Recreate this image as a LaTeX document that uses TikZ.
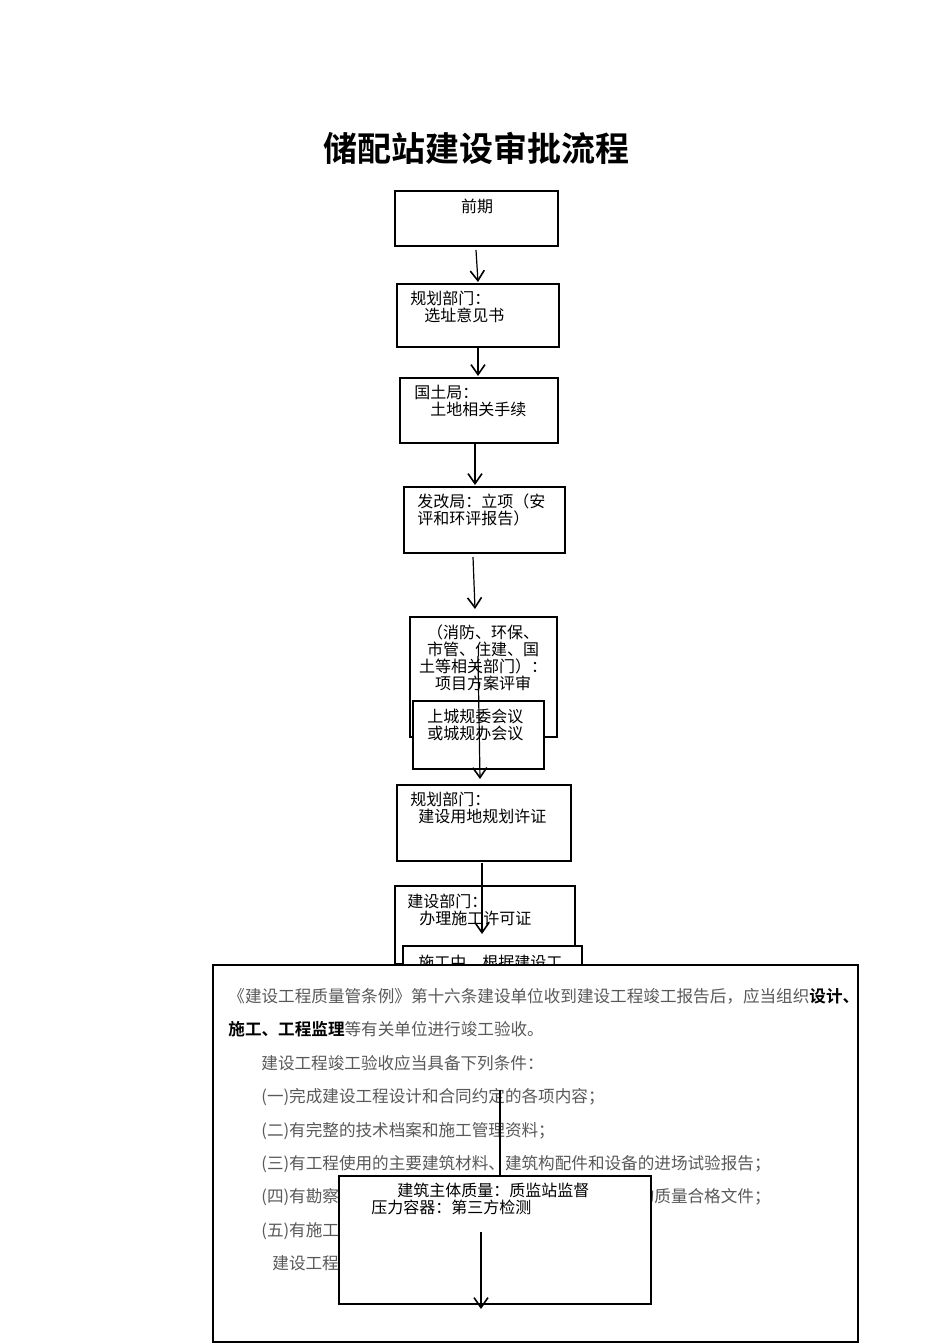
\documentclass[tikz,border=0pt]{standalone}
\usepackage{fontspec}
\setmainfont{Noto Sans CJK SC}[BoldFont=Noto Sans CJK SC Bold]
\usetikzlibrary{arrows.meta}

\tikzset{
    box/.style={draw, line width=0.6pt, fill=white, inner sep=0pt},
    txt/.style={font=\fontsize{8}{8.5}\selectfont, inner sep=0pt},
    body/.style={font=\fontsize{8.3}{8.5}\selectfont, inner sep=0pt, text=black!65, anchor=base west},
    arr/.style={-{Straight Barb[length=5pt, width=7pt, line width=0.8pt]}, line width=0.6pt}
}

\begin{document}
\begin{tikzpicture}[x=0.5pt, y=-0.5pt]
    \useasboundingbox (0,0) rectangle (950,1344);
    \fill[white] (0,0) rectangle (950,1344);

    \node[font=\fontsize{17}{17}\bfseries\selectfont, inner sep=0pt] (title) at (476,148) {储配站建设审批流程};

    \node[box, minimum width=81.5pt, minimum height=27.5pt] (qianqi) at (476.5,218.5) {};
    \node[txt] (tqianqi) at (477,206) {前期};

    \node[box, minimum width=81pt, minimum height=31.5pt] (guihua) at (478,315.5) {};
    \node[txt, align=left, anchor=base west] (tguihua) at (410,321) {规划部门：\\\hspace{7pt}选址意见书};

    \node[box, minimum width=79pt, minimum height=32.5pt] (guotu) at (479,410.5) {};
    \node[txt, align=left, anchor=base west] (tguotu) at (414,415) {国土局：\\\hspace{8pt}土地相关手续};

    \node[box, minimum width=80.5pt, minimum height=33pt] (fagai) at (484.5,520) {};
    \node[txt, align=left, anchor=base west] (tfagai) at (417,524) {发改局：立项（安\\评和环评报告）};

    \node[box, minimum width=73.5pt, minimum height=60pt] (pingshen) at (483.5,677) {};
    \node[txt, align=center, anchor=base] (tpingshen) at (483,689) {（消防、环保、\\市管、住建、国\\土等相关部门）：\\项目方案评审};

    \node[box, minimum width=65.5pt, minimum height=34pt] (chenggui) at (478.5,735) {};
    \node[txt, align=left, anchor=base west] (tchenggui) at (427,739) {上城规委会议\\或城规办会议};

    \draw[arr] (478,656) -- (480,779);

    \node[box, minimum width=87pt, minimum height=38pt] (yongdi) at (484,823) {};
    \node[txt, align=left, anchor=base west] (tyongdi) at (410,822) {规划部门：\\\hspace{4pt}建设用地规划许证};

    \node[box, minimum width=90pt, minimum height=39pt] (shigongxk) at (485,925) {};
    \node[txt, align=left, anchor=base west] (tshigongxk) at (407,924) {建设部门：\\\hspace{6pt}办理施工许可证};

    \node[box, minimum width=89.5pt, minimum height=24pt] (shigongzhong) at (492.5,970) {};
    \node[txt, anchor=base west] (tshigongzhong) at (418,968) {施工中，根据建设工};

    \draw[arr] (482,863) -- (482,934);

    \draw[arr] (476,250) -- (478,282);
    \draw[arr] (478,348) -- (478,376);
    \draw[arr] (475,444) -- (475,485);
    \draw[arr] (473,557) -- (475,609);

    % regulation text
    \node[box, minimum width=322.5pt, minimum height=188.5pt] (tiaoli) at (535.5,1153.5) {};
    \node[body] (l1) at (228,1002) {《建设工程质量管条例》第十六条建设单位收到建设工程竣工报告后，应当组织\textbf{\color{black}设计、}};
    \node[body] (l2) at (228,1035) {\textbf{\color{black}施工、工程监理}等有关单位进行竣工验收。};
    \node[body] (l3) at (261,1069) {建设工程竣工验收应当具备下列条件：};
    \node[body] (l4) at (261,1102) {(一)完成建设工程设计和合同约定的各项内容；};
    \node[body] (l5) at (261,1136) {(二)有完整的技术档案和施工管理资料；};
    \node[body] (l6) at (261,1169) {(三)有工程使用的主要建筑材料、建筑构配件和设备的进场试验报告；};
    \node[body] (l7) at (261,1202) {(四)有勘察、设计、施工、工程监理等单位分别签署的质量合格文件；};
    \node[body] (l8) at (261,1236) {(五)有施工单位签署的工程保修书。};
    \node[body] (l9) at (272,1269) {建设工程经验收合格的，方可交付使用。};

    \draw[line width=0.6pt] (500,1090) -- (500,1176);

    \node[box, minimum width=156pt, minimum height=64pt] (zhijian) at (495,1240) {};
    \node[txt, align=left, anchor=base west] (tzhijian) at (371,1213) {\hspace{13pt}建筑主体质量：质监站监督\\压力容器：第三方检测};

    \draw[arr] (481,1232) -- (481,1309);
\end{tikzpicture}
\end{document}
